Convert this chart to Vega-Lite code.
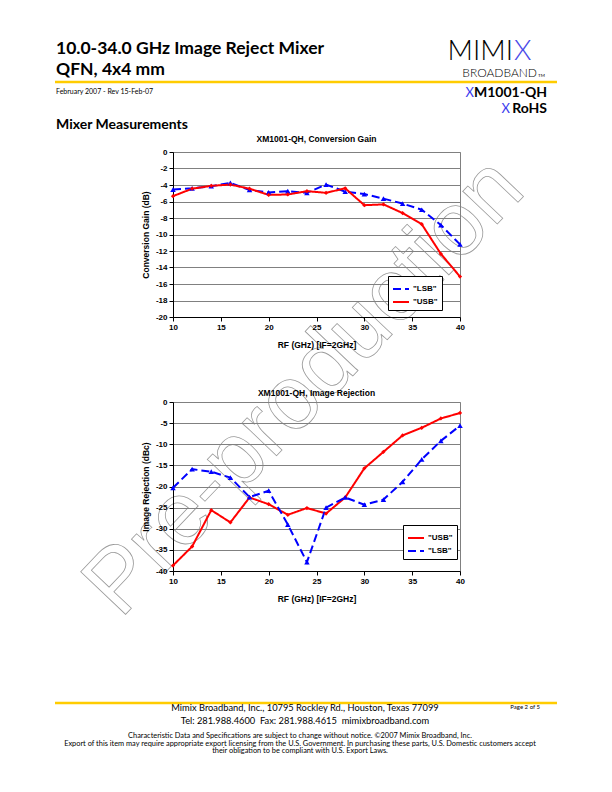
{
  "$schema": "https://vega.github.io/schema/vega-lite/v6.json",
  "autosize": {"type": "none"},
  "padding": {"left": 173, "top": 30, "right": 439, "bottom": 762},
  "background": "white",
  "bounds": "flush",
  "spacing": 85,
  "config": {
    "font": "Liberation Sans",
    "view": {"stroke": "#808080", "strokeWidth": 1},
    "axis": {
      "labelFont": "Liberation Sans", "labelFontSize": 8, "labelFontWeight": "bold", "labelColor": "#000",
      "titleFont": "Liberation Sans", "titleFontSize": 8.5, "titleFontWeight": "bold", "titleColor": "#000",
      "domainColor": "#000", "tickColor": "#000", "tickSize": 4, "gridColor": "#808080", "gridOpacity": 1,
      "labelPadding": 2, "labelFlush": false, "labelOverlap": false
    },
    "axisY": {"titlePadding": 5},
    "axisX": {"titlePadding": 9},
    "title": {"font": "Liberation Sans", "fontSize": 8.5, "fontWeight": "bold", "color": "#000"},
    "legend": {
      "orient": "none", "strokeColor": "#000", "fillColor": "#fff", "padding": 4,
      "labelFont": "Liberation Sans", "labelFontSize": 8, "labelFontWeight": "bold", "labelColor": "#000",
      "symbolType": "stroke", "symbolStrokeWidth": 2, "symbolSize": 256, "rowPadding": 0, "labelOffset": 3
    }
  },
  "resolve": {"scale": {"x": "independent", "y": "independent", "color": "independent", "strokeDash": "independent"}},
  "vconcat": [
    {
      "width": 287, "height": 37,
      "view": {"stroke": null},
      "layer": [
        {"data": {"values": [{"t": "Pre-production"}]},
         "mark": {"type": "text", "font": "Liberation Sans", "fontSize": 90, "angle": -46.4, "align": "center", "baseline": "alphabetic", "fillOpacity": 0, "stroke": "#9a9a9a", "strokeWidth": 0.8},
         "encoding": {"text": {"field": "t"},
           "x": {"datum": 324, "type": "quantitative", "scale": {"domain": [173, 460], "nice": false, "zero": false}, "axis": null},
           "y": {"datum": 406, "type": "quantitative", "scale": {"domain": [30, 67], "nice": false, "zero": false, "reverse": true}, "axis": null}}},
        {"data": {"values": [{"t": "title"}]},
         "mark": {"type": "text", "text": ["10.0-34.0 GHz Image Reject Mixer", "QFN, 4x4 mm"], "lineHeight": 21, "font": "Lato", "fontSize": 17.5, "fontWeight": "bold", "align": "left", "baseline": "alphabetic", "color": "#000"},
         "encoding": {
           "x": {"datum": 56, "type": "quantitative", "scale": {"domain": [173, 460], "nice": false, "zero": false}, "axis": null},
           "y": {"datum": 54, "type": "quantitative", "scale": {"domain": [30, 67], "nice": false, "zero": false, "reverse": true}, "axis": null}}},
        {"data": {"values": [{"t": "line"}]},
         "mark": {"type": "rule", "color": "#ffcc00", "strokeWidth": 2.5},
         "encoding": {
           "x": {"datum": 55, "type": "quantitative", "scale": {"domain": [173, 460], "nice": false, "zero": false}, "axis": null},
           "x2": {"datum": 557},
           "y": {"datum": 82, "type": "quantitative", "scale": {"domain": [30, 67], "nice": false, "zero": false, "reverse": true}, "axis": null}}},
        {"data": {"values": [{"t": "February 2007 - Rev 15-Feb-07"}]},
         "mark": {"type": "text", "font": "Lato", "fontSize": 7, "align": "left", "baseline": "alphabetic", "color": "#000"},
         "encoding": {"text": {"field": "t"},
           "x": {"datum": 56, "type": "quantitative", "scale": {"domain": [173, 460], "nice": false, "zero": false}, "axis": null},
           "y": {"datum": 94, "type": "quantitative", "scale": {"domain": [30, 67], "nice": false, "zero": false, "reverse": true}, "axis": null}}},
        {"data": {"values": [{"t": "Mixer Measurements"}]},
         "mark": {"type": "text", "font": "Lato", "fontSize": 14, "fontWeight": "bold", "align": "left", "baseline": "alphabetic", "color": "#000"},
         "encoding": {"text": {"field": "t"},
           "x": {"datum": 56, "type": "quantitative", "scale": {"domain": [173, 460], "nice": false, "zero": false}, "axis": null},
           "y": {"datum": 129, "type": "quantitative", "scale": {"domain": [30, 67], "nice": false, "zero": false, "reverse": true}, "axis": null}}},
        {"data": {"values": [{"t": "MIMI"}]},
         "mark": {"type": "text", "font": "Lato", "fontSize": 28, "fontWeight": 300, "align": "right", "baseline": "alphabetic", "color": "#000"},
         "encoding": {"text": {"field": "t"},
           "x": {"datum": 513, "type": "quantitative", "scale": {"domain": [173, 460], "nice": false, "zero": false}, "axis": null},
           "y": {"datum": 59.5, "type": "quantitative", "scale": {"domain": [30, 67], "nice": false, "zero": false, "reverse": true}, "axis": null}}},
        {"data": {"values": [{"t": "X"}]},
         "mark": {"type": "text", "font": "Lato", "fontSize": 28, "fontWeight": 300, "align": "left", "baseline": "alphabetic", "color": "#4a4ae8"},
         "encoding": {"text": {"field": "t"},
           "x": {"datum": 514, "type": "quantitative", "scale": {"domain": [173, 460], "nice": false, "zero": false}, "axis": null},
           "y": {"datum": 59.5, "type": "quantitative", "scale": {"domain": [30, 67], "nice": false, "zero": false, "reverse": true}, "axis": null}}},
        {"data": {"values": [{"t": "BROADBAND"}]},
         "mark": {"type": "text", "font": "Lato", "fontSize": 12, "fontWeight": 300, "align": "right", "baseline": "alphabetic", "color": "#000"},
         "encoding": {"text": {"field": "t"},
           "x": {"datum": 537, "type": "quantitative", "scale": {"domain": [173, 460], "nice": false, "zero": false}, "axis": null},
           "y": {"datum": 77, "type": "quantitative", "scale": {"domain": [30, 67], "nice": false, "zero": false, "reverse": true}, "axis": null}}},
        {"data": {"values": [{"t": "TM"}]},
         "mark": {"type": "text", "font": "Lato", "fontSize": 4.5, "align": "left", "baseline": "alphabetic", "color": "#000"},
         "encoding": {"text": {"field": "t"},
           "x": {"datum": 538, "type": "quantitative", "scale": {"domain": [173, 460], "nice": false, "zero": false}, "axis": null},
           "y": {"datum": 77, "type": "quantitative", "scale": {"domain": [30, 67], "nice": false, "zero": false, "reverse": true}, "axis": null}}},
        {"data": {"values": [{"t": "M1001-QH"}]},
         "mark": {"type": "text", "font": "Lato", "fontSize": 14, "fontWeight": "bold", "align": "right", "baseline": "alphabetic", "color": "#000"},
         "encoding": {"text": {"field": "t"},
           "x": {"datum": 547, "type": "quantitative", "scale": {"domain": [173, 460], "nice": false, "zero": false}, "axis": null},
           "y": {"datum": 97, "type": "quantitative", "scale": {"domain": [30, 67], "nice": false, "zero": false, "reverse": true}, "axis": null}}},
        {"data": {"values": [{"t": "X"}]},
         "mark": {"type": "text", "font": "Lato", "fontSize": 13, "align": "right", "baseline": "alphabetic", "color": "#3a3aee"},
         "encoding": {"text": {"field": "t"},
           "x": {"datum": 474, "type": "quantitative", "scale": {"domain": [173, 460], "nice": false, "zero": false}, "axis": null},
           "y": {"datum": 97, "type": "quantitative", "scale": {"domain": [30, 67], "nice": false, "zero": false, "reverse": true}, "axis": null}}},
        {"data": {"values": [{"t": "RoHS"}]},
         "mark": {"type": "text", "font": "Lato", "fontSize": 14, "fontWeight": "bold", "align": "right", "baseline": "alphabetic", "color": "#000"},
         "encoding": {"text": {"field": "t"},
           "x": {"datum": 547, "type": "quantitative", "scale": {"domain": [173, 460], "nice": false, "zero": false}, "axis": null},
           "y": {"datum": 113, "type": "quantitative", "scale": {"domain": [30, 67], "nice": false, "zero": false, "reverse": true}, "axis": null}}},
        {"data": {"values": [{"t": "X"}]},
         "mark": {"type": "text", "font": "Lato", "fontSize": 13, "align": "right", "baseline": "alphabetic", "color": "#3a3aee"},
         "encoding": {"text": {"field": "t"},
           "x": {"datum": 510, "type": "quantitative", "scale": {"domain": [173, 460], "nice": false, "zero": false}, "axis": null},
           "y": {"datum": 113, "type": "quantitative", "scale": {"domain": [30, 67], "nice": false, "zero": false, "reverse": true}, "axis": null}}}
      ]
    },
    {
      "width": 287, "height": 165,
      "title": {"text": "XM1001-QH, Conversion Gain", "offset": 5},
      "data": {"values": [
        {"f": 10, "s": "LSB", "v": -4.55}, {"f": 12, "s": "LSB", "v": -4.4}, {"f": 14, "s": "LSB", "v": -4.15}, {"f": 16, "s": "LSB", "v": -3.75},
        {"f": 18, "s": "LSB", "v": -4.6}, {"f": 20, "s": "LSB", "v": -4.9}, {"f": 22, "s": "LSB", "v": -4.75}, {"f": 24, "s": "LSB", "v": -4.95},
        {"f": 26, "s": "LSB", "v": -3.95}, {"f": 28, "s": "LSB", "v": -4.8}, {"f": 30, "s": "LSB", "v": -5.1}, {"f": 32, "s": "LSB", "v": -5.65},
        {"f": 34, "s": "LSB", "v": -6.25}, {"f": 36, "s": "LSB", "v": -7.0}, {"f": 38, "s": "LSB", "v": -8.85}, {"f": 40, "s": "LSB", "v": -11.2},
        {"f": 10, "s": "USB", "v": -5.35}, {"f": 12, "s": "USB", "v": -4.45}, {"f": 14, "s": "USB", "v": -4.1}, {"f": 16, "s": "USB", "v": -3.95},
        {"f": 18, "s": "USB", "v": -4.45}, {"f": 20, "s": "USB", "v": -5.2}, {"f": 22, "s": "USB", "v": -5.15}, {"f": 24, "s": "USB", "v": -4.75},
        {"f": 26, "s": "USB", "v": -4.95}, {"f": 28, "s": "USB", "v": -4.4}, {"f": 30, "s": "USB", "v": -6.45}, {"f": 32, "s": "USB", "v": -6.35},
        {"f": 34, "s": "USB", "v": -7.4}, {"f": 36, "s": "USB", "v": -8.75}, {"f": 38, "s": "USB", "v": -12.35}, {"f": 40, "s": "USB", "v": -15.1}
      ]},
      "encoding": {
        "x": {"field": "f", "type": "quantitative", "scale": {"domain": [10, 40], "nice": false, "zero": false}, "axis": {"values": [10, 15, 20, 25, 30, 35, 40], "title": "RF (GHz) [IF=2GHz]", "grid": false}},
        "y": {"field": "v", "type": "quantitative", "scale": {"domain": [-20, 0], "nice": false}, "axis": {"values": [0, -2, -4, -6, -8, -10, -12, -14, -16, -18, -20], "title": "Conversion Gain (dB)", "grid": true, "labelExpr": "datum.value + ''"}}
      },
      "layer": [
        {"mark": {"type": "line", "strokeWidth": 2},
         "encoding": {
           "color": {"field": "s", "type": "nominal", "scale": {"domain": ["LSB", "USB"], "range": ["#0000ff", "#ff0000"]}, "legend": {"title": null, "symbolType": "stroke", "legendX": 215, "legendY": 124, "labelExpr": "'\"' + datum.label + '\"'"}},
           "strokeDash": {"field": "s", "type": "nominal", "scale": {"domain": ["LSB", "USB"], "range": [[8, 4], [1, 0]]}, "legend": {"title": null, "symbolType": "stroke", "legendX": 215, "legendY": 124, "labelExpr": "'\"' + datum.label + '\"'"}}}},
        {"transform": [{"filter": "datum.s === 'LSB'"}],
         "mark": {"type": "point", "shape": "triangle-up", "filled": true, "opacity": 1, "color": "#0000ff", "size": 30}},
        {"transform": [{"filter": "datum.s === 'USB'"}],
         "mark": {"type": "point", "shape": "diamond", "filled": true, "opacity": 1, "color": "#ff0000", "size": 18}}
      ]
    },
    {
      "width": 287, "height": 169,
      "title": {"text": "XM1001-QH, Image Rejection", "offset": 1},
      "data": {"values": [
        {"f": 10, "s": "USB", "v": -38.7}, {"f": 12, "s": "USB", "v": -34.2}, {"f": 14, "s": "USB", "v": -25.6}, {"f": 16, "s": "USB", "v": -28.5},
        {"f": 18, "s": "USB", "v": -22.6}, {"f": 20, "s": "USB", "v": -24.2}, {"f": 22, "s": "USB", "v": -26.7}, {"f": 24, "s": "USB", "v": -25.1},
        {"f": 26, "s": "USB", "v": -26.4}, {"f": 28, "s": "USB", "v": -22.6}, {"f": 30, "s": "USB", "v": -15.7}, {"f": 32, "s": "USB", "v": -11.8},
        {"f": 34, "s": "USB", "v": -7.9}, {"f": 36, "s": "USB", "v": -6.1}, {"f": 38, "s": "USB", "v": -3.9}, {"f": 40, "s": "USB", "v": -2.6},
        {"f": 10, "s": "LSB", "v": -20.3}, {"f": 12, "s": "LSB", "v": -15.9}, {"f": 14, "s": "LSB", "v": -16.5}, {"f": 16, "s": "LSB", "v": -17.9},
        {"f": 18, "s": "LSB", "v": -22.5}, {"f": 20, "s": "LSB", "v": -21.0}, {"f": 22, "s": "LSB", "v": -29.0}, {"f": 24, "s": "LSB", "v": -37.9},
        {"f": 26, "s": "LSB", "v": -25.0}, {"f": 28, "s": "LSB", "v": -22.6}, {"f": 30, "s": "LSB", "v": -24.3}, {"f": 32, "s": "LSB", "v": -23.1},
        {"f": 34, "s": "LSB", "v": -18.9}, {"f": 36, "s": "LSB", "v": -13.6}, {"f": 38, "s": "LSB", "v": -9.2}, {"f": 40, "s": "LSB", "v": -5.6}
      ]},
      "encoding": {
        "x": {"field": "f", "type": "quantitative", "scale": {"domain": [10, 40], "nice": false, "zero": false}, "axis": {"values": [10, 15, 20, 25, 30, 35, 40], "title": "RF (GHz) [IF=2GHz]", "grid": false}},
        "y": {"field": "v", "type": "quantitative", "scale": {"domain": [-40, 0], "nice": false}, "axis": {"values": [0, -5, -10, -15, -20, -25, -30, -35, -40], "title": "Image Rejection (dBc)", "grid": true, "labelExpr": "datum.value + ''"}}
      },
      "layer": [
        {"mark": {"type": "line", "strokeWidth": 2},
         "encoding": {
           "color": {"field": "s", "type": "nominal", "scale": {"domain": ["USB", "LSB"], "range": ["#ff0000", "#0000ff"]}, "legend": {"title": null, "symbolType": "stroke", "legendX": 230, "legendY": 123, "labelExpr": "'\"' + datum.label + '\"'"}},
           "strokeDash": {"field": "s", "type": "nominal", "scale": {"domain": ["USB", "LSB"], "range": [[1, 0], [8, 4]]}, "legend": {"title": null, "symbolType": "stroke", "legendX": 230, "legendY": 123, "labelExpr": "'\"' + datum.label + '\"'"}}}},
        {"transform": [{"filter": "datum.s === 'USB'"}],
         "mark": {"type": "point", "shape": "diamond", "filled": true, "opacity": 1, "color": "#ff0000", "size": 18}},
        {"transform": [{"filter": "datum.s === 'LSB'"}],
         "mark": {"type": "point", "shape": "triangle-up", "filled": true, "opacity": 1, "color": "#0000ff", "size": 30}}
      ]
    },
    {
      "width": 287, "height": 100,
      "view": {"stroke": null},
      "layer": [
        {"data": {"values": [{"t": "line"}]},
         "mark": {"type": "rule", "color": "#ffcc00", "strokeWidth": 2.5},
         "encoding": {
           "x": {"datum": 55, "type": "quantitative", "scale": {"domain": [173, 460], "nice": false, "zero": false}, "axis": null},
           "x2": {"datum": 557},
           "y": {"datum": 703, "type": "quantitative", "scale": {"domain": [656, 756], "nice": false, "zero": false, "reverse": true}, "axis": null}}},
        {"data": {"values": [{"t": "address"}]},
         "mark": {"type": "text", "text": ["Mimix Broadband, Inc., 10795 Rockley Rd., Houston, Texas 77099", "Tel: 281.988.4600\u00a0\u00a0Fax: 281.988.4615\u00a0\u00a0mimixbroadband.com"], "lineHeight": 13, "font": "Lato", "fontSize": 9.3, "align": "center", "baseline": "alphabetic", "color": "#000"},
         "encoding": {
           "x": {"datum": 305, "type": "quantitative", "scale": {"domain": [173, 460], "nice": false, "zero": false}, "axis": null},
           "y": {"datum": 711, "type": "quantitative", "scale": {"domain": [656, 756], "nice": false, "zero": false, "reverse": true}, "axis": null}}},
        {"data": {"values": [{"t": "Page 2 of 5"}]},
         "mark": {"type": "text", "font": "Lato", "fontSize": 6, "align": "right", "baseline": "alphabetic", "color": "#000"},
         "encoding": {"text": {"field": "t"},
           "x": {"datum": 540, "type": "quantitative", "scale": {"domain": [173, 460], "nice": false, "zero": false}, "axis": null},
           "y": {"datum": 709, "type": "quantitative", "scale": {"domain": [656, 756], "nice": false, "zero": false, "reverse": true}, "axis": null}}},
        {"data": {"values": [{"t": "notice"}]},
         "mark": {"type": "text", "text": ["Characteristic Data and Specifications are subject to change without notice. ©2007 Mimix Broadband, Inc.", "Export of this item may require appropriate export licensing from the U.S. Government. In purchasing these parts, U.S. Domestic customers accept", "their obligation to be compliant with U.S. Export Laws."], "lineHeight": 7.5, "font": "Lato", "fontSize": 7.4, "align": "center", "baseline": "alphabetic", "color": "#000"},
         "encoding": {
           "x": {"datum": 300, "type": "quantitative", "scale": {"domain": [173, 460], "nice": false, "zero": false}, "axis": null},
           "y": {"datum": 738, "type": "quantitative", "scale": {"domain": [656, 756], "nice": false, "zero": false, "reverse": true}, "axis": null}}}
      ]
    }
  ]
}
